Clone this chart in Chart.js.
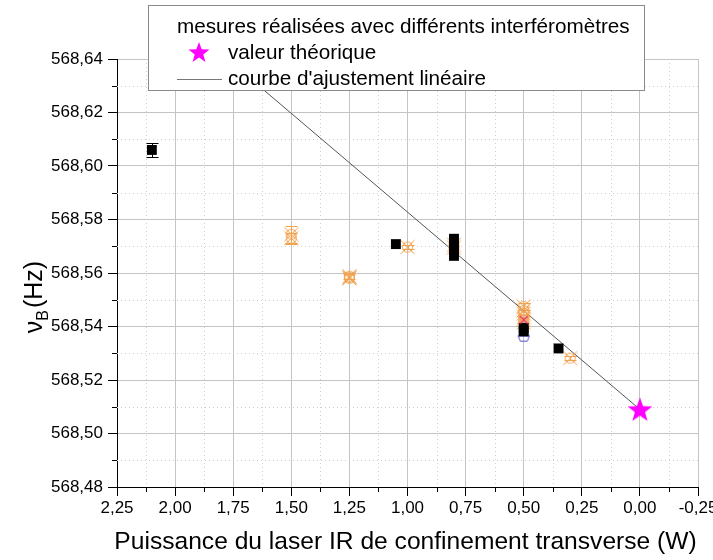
<!DOCTYPE html>
<html>
<head>
<meta charset="utf-8">
<script src="https://cdn.jsdelivr.net/npm/chart.js@4/dist/chart.umd.min.js"></script>
<style>
  html, body { margin: 0; padding: 0; background: #ffffff; }
</style>
</head>
<body>
<canvas id="c" width="713" height="560"></canvas>
<script>
// Axis ticks
const xTicks = [-0.25, 0.00, 0.25, 0.50, 0.75, 1.00, 1.25, 1.50, 1.75, 2.00, 2.25];
const yTicks = [568.48, 568.50, 568.52, 568.54, 568.56, 568.58, 568.60, 568.62, 568.64];

// Measurements (black squares)
const blackX   = [2.10, 1.05, 0.80, 0.80, 0.80, 0.80, 0.50, 0.50, 0.35];
const blackY   = [568.6060, 568.5708, 568.5728, 568.5705, 568.5685, 568.5664, 568.5395, 568.5382, 568.5318];
const blackErr = [0.0026, 0, 0, 0, 0, 0, 0, 0, 0];

// Measurements (orange circled crosses)
const orangeX   = [1.50, 1.50, 1.25, 1.25, 1.25, 1.00, 0.80, 0.80, 0.50, 0.50, 0.50, 0.50, 0.50, 0.50, 0.30];
const orangeY   = [568.5745, 568.5730, 568.5588, 568.5584, 568.5580, 568.5697, 568.5705, 568.5695,
                   568.5475, 568.5460, 568.5448, 568.5435, 568.5425, 568.5415, 568.5282];
const orangeErr = [0.0032, 0.0020, 0.0010, 0, 0, 0.0008, 0, 0, 0.0012, 0, 0, 0, 0, 0, 0.0008];

// Other interferometers
const blueX = [0.50];
const blueY = [568.5362];
const redX  = [0.50];
const redY  = [568.5425];

// Theoretical value
const starX = [0.00];
const starY = [568.5090];

// Linear fit (end points)
const fitX = [0.00, 1.80];
const fitY = [568.5090, 568.6418];

const FONT = '"Liberation Sans", Arial, sans-serif';
const ORANGE = '#F2A24E';

function pts(xs, ys) { return xs.map((x, i) => ({ x: x, y: ys[i] })); }
function fmt(v) { return v.toFixed(2).replace('.', ','); }

function makeMarker(w, h, draw) {
  const c = document.createElement('canvas');
  c.width = w; c.height = h;
  draw(c.getContext('2d'));
  return c;
}

const orangeMark = makeMarker(17, 17, g => {
  g.strokeStyle = ORANGE; g.lineWidth = 1;
  g.beginPath(); g.arc(8.5, 8.5, 5, 0, Math.PI * 2); g.stroke();
  g.beginPath();
  g.moveTo(1.5, 1.5); g.lineTo(15.5, 15.5);
  g.moveTo(15.5, 1.5); g.lineTo(1.5, 15.5);
  g.stroke();
});

const blueMark = makeMarker(14, 14, g => {
  g.strokeStyle = '#5050C8'; g.lineWidth = 1;
  g.beginPath();
  g.moveTo(3.5, 2.5); g.lineTo(10.5, 2.5); g.lineTo(12.5, 6.5);
  g.lineTo(10.5, 11.5); g.lineTo(3.5, 11.5); g.lineTo(1.5, 6.5); g.closePath();
  g.moveTo(1.5, 6.5); g.lineTo(12.5, 6.5);
  g.stroke();
});

const redMark = makeMarker(12, 12, g => {
  g.strokeStyle = '#E0306A'; g.lineWidth = 1.2;
  g.beginPath();
  g.moveTo(2, 2); g.lineTo(10, 10);
  g.moveTo(10, 2); g.lineTo(2, 10);
  g.stroke();
});

function drawStar(g, cx, cy, ro, ri) {
  g.beginPath();
  for (let i = 0; i < 10; i++) {
    const r = i % 2 === 0 ? ro : ri;
    const a = -Math.PI / 2 + i * Math.PI / 5;
    const px = cx + r * Math.cos(a), py = cy + r * Math.sin(a);
    if (i === 0) g.moveTo(px, py); else g.lineTo(px, py);
  }
  g.closePath();
  g.fill();
}

const starMark = makeMarker(28, 28, g => {
  g.fillStyle = '#FF00FF';
  drawStar(g, 14, 15, 13, 5.3);
});

const starSmall = makeMarker(24, 24, g => {
  g.fillStyle = '#FF00FF';
  drawStar(g, 12, 13, 11, 4.5);
});

// Minor grid lines (dotted), minor tick marks and error bars
const minorGrid = {
  id: 'minorGrid',
  beforeDatasetsDraw(chart) {
    const { ctx, chartArea: a, scales: { x, y } } = chart;
    ctx.save();
    ctx.strokeStyle = '#cfcfcf';
    ctx.lineWidth = 1;
    ctx.setLineDash([1, 3]);
    for (let i = 0; i < xTicks.length - 1; i++) {
      const px = Math.round(x.getPixelForValue((xTicks[i] + xTicks[i + 1]) / 2)) + 0.5;
      ctx.beginPath(); ctx.moveTo(px, a.top); ctx.lineTo(px, a.bottom); ctx.stroke();
    }
    for (let i = 0; i < yTicks.length - 1; i++) {
      const py = Math.round(y.getPixelForValue((yTicks[i] + yTicks[i + 1]) / 2)) + 0.5;
      ctx.beginPath(); ctx.moveTo(a.left, py); ctx.lineTo(a.right, py); ctx.stroke();
    }
    ctx.setLineDash([]);
    ctx.strokeStyle = '#000';
    for (let i = 0; i < xTicks.length - 1; i++) {
      const px = Math.round(x.getPixelForValue((xTicks[i] + xTicks[i + 1]) / 2)) + 0.5;
      ctx.beginPath(); ctx.moveTo(px, a.bottom); ctx.lineTo(px, a.bottom + 5); ctx.stroke();
    }
    for (let i = 0; i < yTicks.length - 1; i++) {
      const py = Math.round(y.getPixelForValue((yTicks[i] + yTicks[i + 1]) / 2)) + 0.5;
      ctx.beginPath(); ctx.moveTo(a.left - 5, py); ctx.lineTo(a.left, py); ctx.stroke();
    }
    ctx.restore();

    const bars = [
      { xs: blackX, ys: blackY, es: blackErr, color: '#000' },
      { xs: orangeX, ys: orangeY, es: orangeErr, color: ORANGE }
    ];
    ctx.save();
    ctx.lineWidth = 1;
    bars.forEach(b => {
      ctx.strokeStyle = b.color;
      b.xs.forEach((xv, i) => {
        const e = b.es[i];
        if (!e) return;
        const px = Math.round(x.getPixelForValue(xv)) + 0.5;
        const p1 = Math.round(y.getPixelForValue(b.ys[i] + e)) + 0.5;
        const p2 = Math.round(y.getPixelForValue(b.ys[i] - e)) + 0.5;
        ctx.beginPath();
        ctx.moveTo(px, p1); ctx.lineTo(px, p2);
        ctx.moveTo(px - 6, p1); ctx.lineTo(px + 6, p1);
        ctx.moveTo(px - 6, p2); ctx.lineTo(px + 6, p2);
        ctx.stroke();
      });
    });
    ctx.restore();
  }
};

// Axis titles and legend box
const decorations = {
  id: 'decorations',
  afterDraw(chart) {
    const { ctx, chartArea: a } = chart;
    ctx.save();
    ctx.fillStyle = '#000';

    // x title
    ctx.font = '24.6px ' + FONT;
    ctx.textAlign = 'center';
    ctx.textBaseline = 'middle';
    ctx.fillText('Puissance du laser IR de confinement transverse (W)', (a.left + a.right) / 2 - 2, 542);

    // y title: ν with subscript B, then (Hz)
    ctx.save();
    ctx.translate(33, 297);
    ctx.rotate(-Math.PI / 2);
    ctx.textAlign = 'left';
    ctx.textBaseline = 'alphabetic';
    const big = '25px ' + FONT, small = '16px ' + FONT;
    ctx.font = big; const w1 = ctx.measureText('\u03BD').width;
    ctx.font = small; const w2 = ctx.measureText('B').width;
    ctx.font = big; const w3 = ctx.measureText('(Hz)').width;
    let sx = -(w1 + w2 + 2 + w3) / 2;
    const base = 9;
    ctx.font = big; ctx.fillText('\u03BD', sx, base); sx += w1;
    ctx.font = small; ctx.fillText('B', sx, base + 6); sx += w2 + 2;
    ctx.font = big; ctx.fillText('(Hz)', sx, base);
    ctx.restore();

    // legend
    ctx.fillStyle = '#fff';
    ctx.fillRect(148, 5, 497, 86);
    ctx.strokeStyle = '#8a8a8a';
    ctx.lineWidth = 1;
    ctx.strokeRect(148.5, 5.5, 496, 85);
    ctx.fillStyle = '#000';
    ctx.font = '20.7px ' + FONT;
    ctx.textAlign = 'left';
    ctx.textBaseline = 'middle';
    ctx.fillText('mesures réalisées avec différents interféromètres', 177, 27);
    ctx.drawImage(starSmall, 199 - 12, 53 - 13);
    ctx.fillText('valeur théorique', 228, 53);
    ctx.strokeStyle = '#777';
    ctx.beginPath(); ctx.moveTo(177, 79.5); ctx.lineTo(222, 79.5); ctx.stroke();
    ctx.fillText('courbe d\'ajustement linéaire', 228, 79);
    ctx.restore();
  }
};

new Chart(document.getElementById('c'), {
  type: 'scatter',
  data: {
    datasets: [
      {
        label: 'courbe d\'ajustement linéaire',
        type: 'line',
        data: pts(fitX, fitY),
        borderColor: '#555555',
        borderWidth: 1,
        pointRadius: 0,
        fill: false,
        order: 5
      },
      {
        label: 'orange',
        data: pts(orangeX, orangeY),
        pointStyle: orangeMark,
        pointRadius: 8,
        order: 4
      },
      {
        label: 'bleu',
        data: pts(blueX, blueY),
        pointStyle: blueMark,
        pointRadius: 7,
        order: 3
      },
      {
        label: 'noir',
        data: pts(blackX, blackY),
        pointStyle: 'rect',
        pointRadius: 7,
        backgroundColor: '#000',
        borderColor: '#000',
        borderWidth: 0,
        order: 2
      },
      {
        label: 'rouge',
        data: pts(redX, redY),
        pointStyle: redMark,
        pointRadius: 6,
        order: 1
      },
      {
        label: 'valeur théorique',
        data: pts(starX, starY),
        pointStyle: starMark,
        pointRadius: 14,
        order: 0
      }
    ]
  },
  options: {
    responsive: false,
    animation: false,
    events: [],
    layout: { padding: { top: 59, right: 15, left: 0, bottom: 0 } },
    plugins: {
      legend: { display: false },
      tooltip: { enabled: false }
    },
    scales: {
      x: {
        type: 'linear',
        reverse: true,
        min: -0.25,
        max: 2.25,
        afterBuildTicks(s) { s.ticks = xTicks.map(v => ({ value: v })); },
        afterFit(s) { s.height = 73; s.paddingLeft = 0; s.paddingRight = 0; },
        ticks: {
          callback: v => fmt(v),
          font: { family: FONT, size: 17 },
          color: '#000',
          padding: 2,
          maxRotation: 0,
          autoSkip: false
        },
        grid: { color: '#c4c4c4', tickColor: '#000', tickLength: 9, lineWidth: 1 },
        border: { color: '#000', width: 1 }
      },
      y: {
        type: 'linear',
        min: 568.48,
        max: 568.64,
        afterBuildTicks(s) { s.ticks = yTicks.map(v => ({ value: v })); },
        afterFit(s) { s.width = 117; s.paddingTop = 0; s.paddingBottom = 0; },
        ticks: {
          callback: v => fmt(v),
          font: { family: FONT, size: 17 },
          color: '#000',
          padding: 5,
          autoSkip: false
        },
        grid: { color: '#c4c4c4', tickColor: '#000', tickLength: 9, lineWidth: 1 },
        border: { color: '#000', width: 1 }
      }
    }
  },
  plugins: [minorGrid, decorations]
});
</script>
</body>
</html>
